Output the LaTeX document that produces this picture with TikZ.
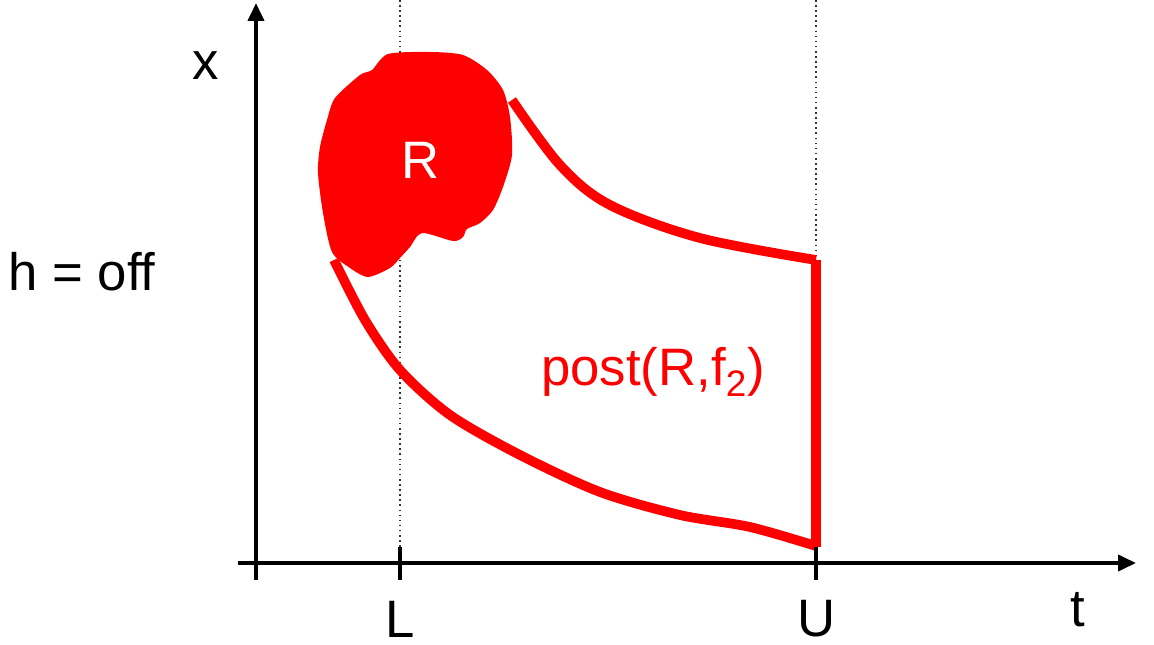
\documentclass[tikz,border=0pt]{standalone}
\usepackage{fontspec}
\setmainfont{Liberation Sans}
\usetikzlibrary{arrows.meta}
\definecolor{rred}{RGB}{255,0,0}
\tikzset{
  lbl/.style={font=\fontsize{30}{36}\selectfont, inner sep=0pt},
  axis/.style={line width=2.2pt, -{Triangle[length=0.36cm,width=0.32cm]}},
  tick/.style={line width=2.2pt},
  guide/.style={gray!40!black, line width=0.9pt, dotted},
  reach/.style={rred, line width=5.5pt, line join=miter},
}
\begin{document}
\begin{tikzpicture}[x=0.02cm, y=-0.02cm]
\useasboundingbox (0,0) rectangle (1154,645);
% guides
\draw[guide] (400,0) -- (400,547);
\draw[guide] (816,0) -- (816,547);
% blob R
\fill[rred] plot[smooth cycle, tension=0.45] coordinates {
 (388,54) (430,52) (463,55) (487,70) (503,90) (510,117) (512,155) (503,187)
 (493,210) (480,223) (467,229) (463,237) (453,241) (422,233) (410,247)
 (400,258) (390,268) (368,277) (350,268) (332,252) (323,213) (318,173)
 (320,147) (327,120) (335,98) (360,75) (372,70)};
\node[lbl, text=white] (R) at (421,160) {R};
% post region
\draw[reach] plot[smooth, tension=0.55] coordinates {
 (512,100) (560,165) (610,205) (700,238) (816,260)};
\draw[reach] (816,260) -- (816,547);
\draw[reach] plot[smooth, tension=0.5] coordinates {
 (334,260) (365,320) (400,370) (450,415) (520,455) (600,492) (680,515) (750,527) (816,546)};
\node[lbl, text=rred] (post) at (653,372) {post(R,f\textsubscript{2})};
% axes
\coordinate (o) at (256,563);
\coordinate (ybot) at (256,580);
\coordinate (ytop) at (256,3);
\coordinate (xleft) at (238,563);
\coordinate (xright) at (1136,563);
\draw[axis] (ybot) -- (ytop);
\draw[axis] (xleft) -- (xright);
\draw[tick] (400,547) -- (400,580);
\draw[tick] (816,547) -- (816,580);
% labels
\node[lbl] (x) at (206,66) {x};
\node[lbl] (h) at (82,272) {h = off};
\node[lbl] (L) at (400,619) {L};
\node[lbl] (U) at (817,619) {U};
\node[lbl] (t) at (1078,610) {t};
\end{tikzpicture}
\end{document}
